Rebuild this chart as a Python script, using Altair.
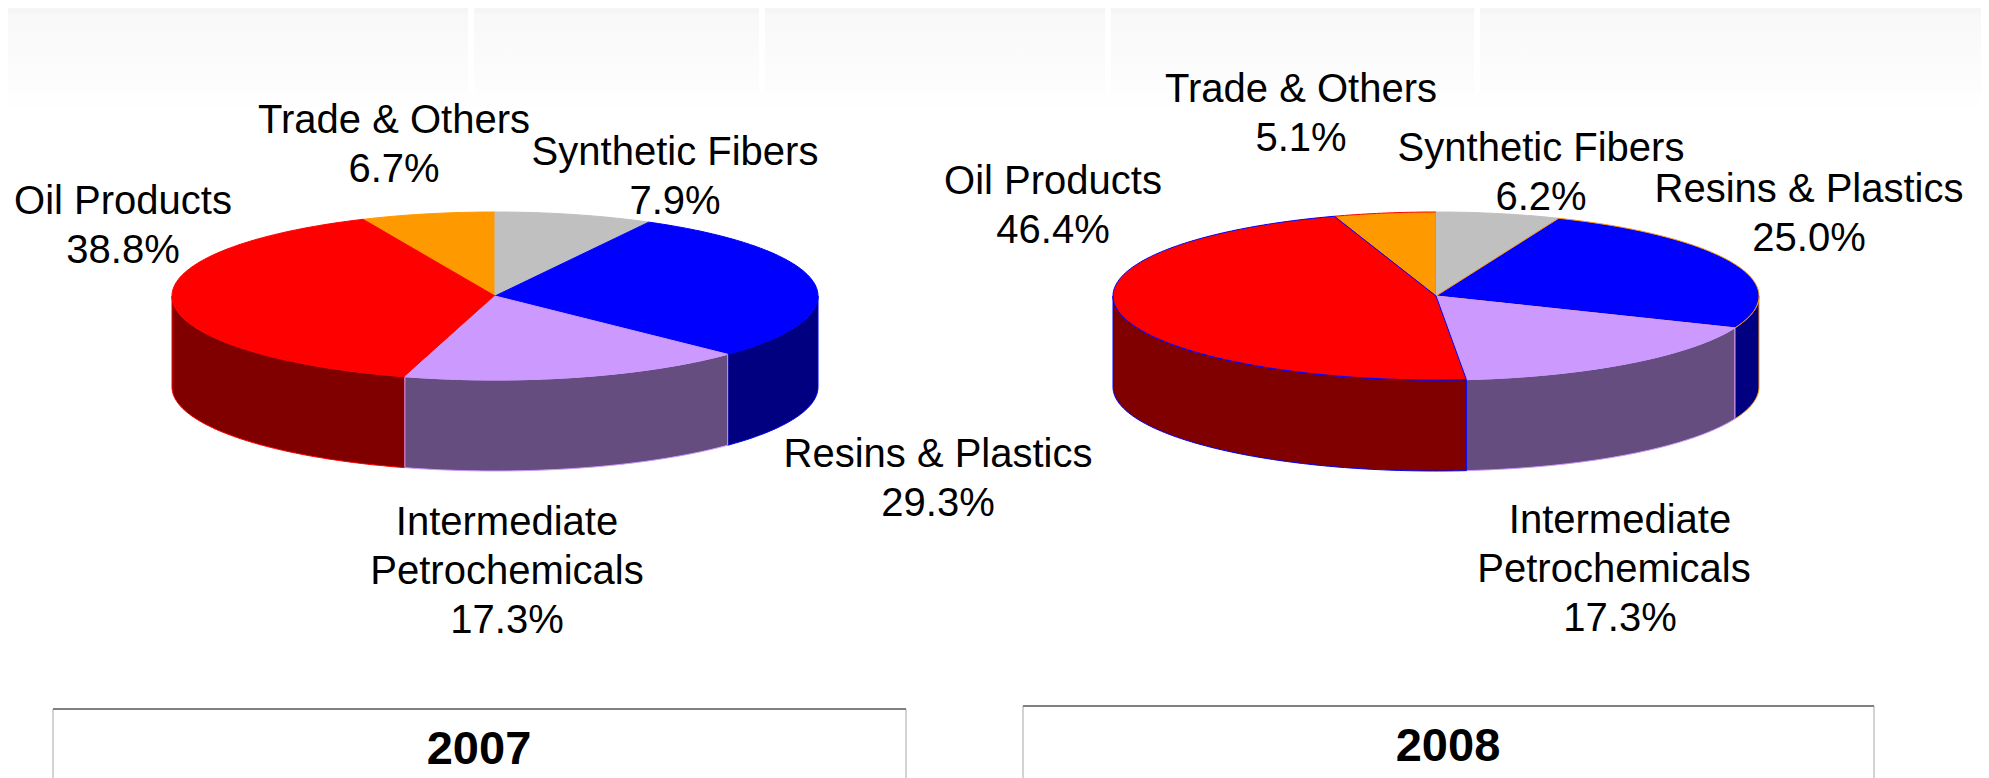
import math
import altair as alt
import pandas as pd

# ---- chart values ----
categories = ["Synthetic Fibers", "Resins & Plastics", "Intermediate Petrochemicals", "Oil Products", "Trade & Others"]
values_2007 = [7.9, 29.3, 17.3, 38.8, 6.7]
values_2008 = [6.2, 25.0, 17.3, 46.4, 5.1]
years = ["2007", "2008"]

# ---- styles ----
top_colors = ["#C0C0C0", "#0000FF", "#CC99FF", "#FF0000", "#FF9900"]
side_colors = ["#606060", "#000080", "#654E7F", "#800000", "#804C00"]
strokes_2007 = ["#C0C0C0", "#0000FF", "#CC99FF", "#FF0000", "#FF9900"]
strokes_2008 = ["#C0C0C0", "#FF9900", "#CC99FF", "#0000FF", "#FF0000"]

# ---- layout (page pixels) ----
XMAX, H = 1981, 778
RX, RY, DEPTH = 323, 84, 91
pies = [
    dict(year="2007", cx=495, cy=296, values=values_2007, strokes=strokes_2007,
         top_order=[4, 0, 3, 1, 2], side_order=[3, 1, 2]),
    dict(year="2008", cx=1436, cy=296, values=values_2008, strokes=strokes_2008,
         top_order=[4, 0, 1, 2, 3], side_order=[1, 2, 3]),
]
label_anchor = {
    "2007": {0: (675, 153), 1: (938, 455), 2: (507, 523), 3: (123, 202), 4: (394, 121)},
    "2008": {0: (1541, 149), 1: (1809, 190), 2: (1620, 521), 3: (1053, 182), 4: (1301, 90)},
}
line_nudge = {("2008", "Petrochemicals"): -6}
LINE = 49
boxes = [dict(x=53, x2=906, y=709, label_x=479, label_y=750),
         dict(x=1023, x2=1874, y=706, label_x=1448, label_y=747)]
bars = [468, 759, 1105, 1474]


def rim(cx, cy, deg):
    a = math.radians(deg)
    return cx + RX * math.sin(a), cy - RY * math.cos(a)


def arc_degrees(d0, d1):
    n = max(2, int(abs(d1 - d0)) + 1)
    return [d0 + (d1 - d0) * k / n for k in range(n + 1)]


top_rows, side_rows = [], []
for pie in pies:
    cum = 0.0
    spans = []
    for v in pie["values"]:
        spans.append((cum * 3.6, (cum + v) * 3.6))
        cum += v
    for draw, s in enumerate(pie["top_order"]):
        d0, d1 = spans[s]
        pts = [(pie["cx"], pie["cy"])] + [rim(pie["cx"], pie["cy"], d) for d in arc_degrees(d0, d1)] + [(pie["cx"], pie["cy"])]
        for i, (x, y) in enumerate(pts):
            top_rows.append(dict(id=f"{pie['year']}-{draw}", i=i, x=x, y=y,
                                 fill=top_colors[s], stroke=pie["strokes"][s]))
    for draw, s in enumerate(pie["side_order"]):
        d0, d1 = max(spans[s][0], 90), min(spans[s][1], 270)
        if d1 <= d0:
            continue
        upper = [rim(pie["cx"], pie["cy"], d) for d in arc_degrees(d0, d1)]
        lower = [(x, y + DEPTH) for x, y in reversed(upper)]
        pts = upper + lower + [upper[0]]
        for i, (x, y) in enumerate(pts):
            side_rows.append(dict(id=f"{pie['year']}-{draw}", i=i, x=x, y=y,
                                  fill=side_colors[s], stroke=pie["strokes"][s]))

label_rows = []
for pie in pies:
    for s, name in enumerate(categories):
        ax, ay = label_anchor[pie["year"]][s]
        lines = name.split(" ") if name.startswith("Intermediate") else [name]
        lines = lines + [f"{pie['values'][s]:.1f}%"]
        for k, t in enumerate(lines):
            label_rows.append(dict(text=t, x=ax + line_nudge.get((pie["year"], t), 0), y=ay + k * LINE))

x_scale = alt.Scale(domain=[8, XMAX], nice=False, zero=False)
y_scale = alt.Scale(domain=[H, 8], nice=False, zero=False)
xs = alt.X("x:Q", scale=x_scale, axis=None)
ys = alt.Y("y:Q", scale=y_scale, axis=None)


def rect_layer(rows, **mark):
    return alt.Chart(pd.DataFrame(rows)).mark_rect(**mark).encode(
        x=xs, x2="x2:Q", y=ys, y2="y2:Q")


grad = alt.LinearGradient(gradient="linear", x1=0, x2=0, y1=0, y2=1,
                          stops=[alt.GradientStop(offset=0, color="#F8F8F8"),
                                 alt.GradientStop(offset=1, color="#FDFDFD")])
bg = [
    rect_layer([dict(x=8, x2=XMAX, y=8, y2=108)], fill="#FEFEFE"),
    rect_layer([dict(x=8, x2=XMAX, y=13, y2=92)], fill=grad),
    rect_layer([dict(x=8, x2=XMAX, y=8, y2=13)], fill="#F5F5F5"),
    rect_layer([dict(x=b, x2=b + 6, y=8, y2=92) for b in bars], fill="#FFFFFF"),
]


def poly_layer(rows):
    return alt.Chart(pd.DataFrame(rows)).mark_line(strokeWidth=1, interpolate="linear").encode(
        x=xs, y=ys,
        detail="id:N",
        order="i:Q",
        fill=alt.Fill("fill:N", scale=None),
        stroke=alt.Stroke("stroke:N", scale=None),
    )


box_df = pd.DataFrame(boxes).assign(y2=H)
box_sides = []
for col in ["x", "x2"]:
    box_sides.append(alt.Chart(box_df).mark_rule(color="#A6A6A6", strokeWidth=1).encode(
        x=alt.X(f"{col}:Q", scale=x_scale, axis=None), y=ys, y2="y2:Q"))
box_top = alt.Chart(box_df).mark_rule(color="#808080", strokeWidth=2).encode(
    x=xs, x2="x2:Q", y=ys)

labels = alt.Chart(pd.DataFrame(label_rows)).mark_text(
    font="Liberation Sans", fontSize=40, align="center", baseline="middle", color="#000000"
).encode(x=xs, y=ys, text="text:N")

year_df = pd.DataFrame([dict(text=t, x=b["label_x"], y=b["label_y"]) for t, b in zip(years, boxes)])
year_labels = alt.Chart(year_df).mark_text(
    font="Liberation Sans", fontSize=47, fontWeight="bold", align="center", baseline="middle", color="#000000"
).encode(x=xs, y=ys, text="text:N")

chart = alt.layer(
    *bg,
    poly_layer(side_rows),
    poly_layer(top_rows),
    *box_sides,
    box_top,
    labels,
    year_labels,
).properties(
    width=XMAX - 8, height=H - 8, padding=0, background="#FFFFFF",
    autosize=alt.AutoSizeParams(type="none"),
).configure_view(stroke=None)

chart.save("out.html", embed_options={"renderer": "svg", "actions": False})
